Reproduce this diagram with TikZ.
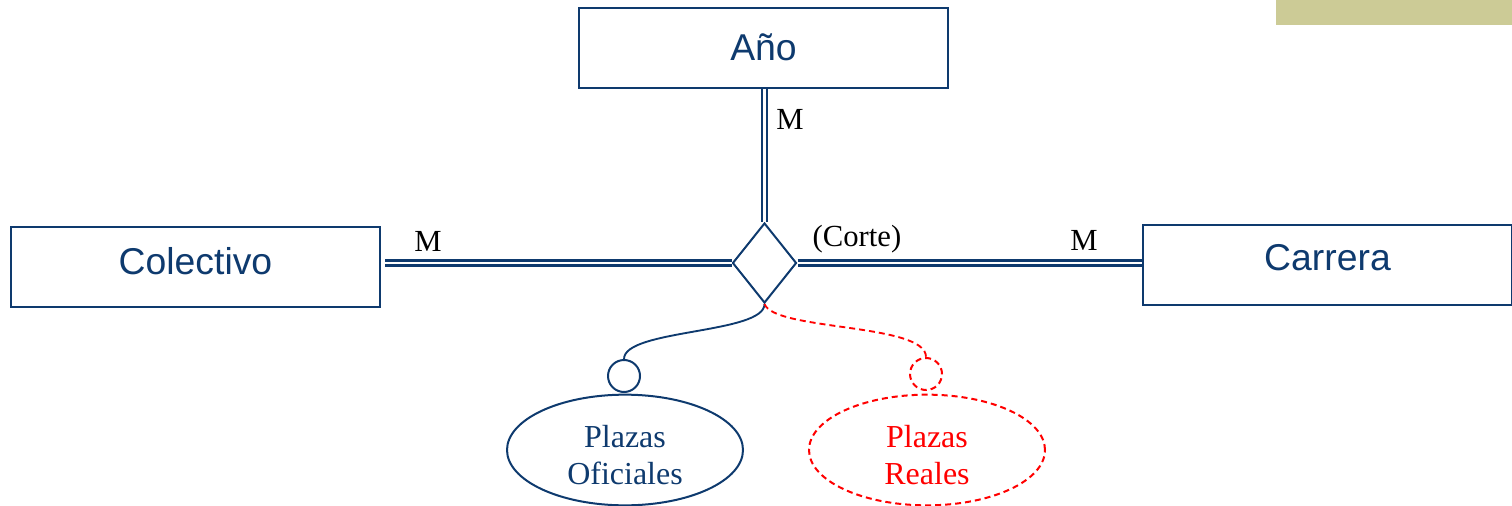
\documentclass[tikz,border=0pt]{standalone}
\usepackage{fontspec}
\setmainfont{Liberation Serif}
\newfontfamily\arialf{Liberation Sans}
\usetikzlibrary{shapes.geometric}
\definecolor{erblue}{RGB}{14,58,110}
\definecolor{olive}{RGB}{204,203,150}
\definecolor{erred}{RGB}{255,0,0}
\tikzset{
  entity/.style={draw=erblue, line width=1.5pt, minimum width=276.75pt, minimum height=60pt, inner sep=0pt},
  etext/.style={inner sep=0pt, text=erblue, font=\arialf\fontsize{28}{33}\selectfont},
  relship/.style={draw=erblue, line width=1.5pt, diamond, minimum width=48pt, minimum height=60pt, inner sep=0pt},
  dblx/.style={erblue, line width=1.7pt, double=white, double distance=2.2pt},
  card/.style={inner sep=0pt, font=\fontsize{23}{28}\selectfont},
  attrib/.style={draw=erblue, line width=1.5pt, ellipse, minimum width=177pt, minimum height=83pt, inner sep=0pt},
  attribr/.style={attrib, draw=erred, dash pattern=on 4.5pt off 3pt},
  atext/.style={inner sep=0pt, align=center, text=erblue, font=\fontsize{24}{28}\selectfont},
  atextr/.style={atext, text=erred},
  ring/.style={draw=erblue, line width=1.5pt, circle, minimum size=24pt, inner sep=0pt},
  ringr/.style={ring, draw=erred, dash pattern=on 4.5pt off 3pt},
  link/.style={erblue, line width=1.4pt},
  linkr/.style={erred, line width=1.4pt, dash pattern=on 4.5pt off 3pt}
}
\begin{document}
\begin{tikzpicture}[x=0.75pt, y=-0.75pt]
\useasboundingbox (0,0) rectangle (1512,506);
\fill[olive] (1276,0) rectangle (1512,25);
\node[entity] (anio) at (763.5,48) {};
\node[etext] (anioT) at (763.5,47) {Año};
\node[entity] (col) at (195.5,267) {};
\node[etext] (colT) at (195.5,261) {Colectivo};
\node[entity] (car) at (1327.5,264.5) {};
\node[etext] (carT) at (1327.5,258) {Carrera};
\node[relship] (rel) at (764.5,263) {};
\coordinate (colR) at (385,263);
\draw[dblx] (rel.north |- anio.south) -- (rel.north);
\draw[dblx] (colR) -- (rel.west);
\draw[dblx] (rel.east) -- (rel.east -| car.west);
\node[card] (m1) at (790,119) {M};
\node[card] (m2) at (428,241) {M};
\node[card] (m3) at (1084,240) {M};
\node[card] (corte) at (857,239) {(Corte)};
\node[attrib] (po) at (625,450) {};
\node[atext] (poT) at (625,455) {Plazas\\Oficiales};
\node[attribr] (pr) at (927,450) {};
\node[atextr] (prT) at (927,455) {Plazas\\Reales};
\node[ring] (c1) at (624,376) {};
\node[ringr] (c2) at (926,374) {};
\draw[link] (rel.south) .. controls +(0,30) and +(0,-30) .. (c1.north);
\draw[linkr] (rel.south) .. controls +(10,27) and +(0,-34) .. (c2.north);
\end{tikzpicture}
\end{document}
